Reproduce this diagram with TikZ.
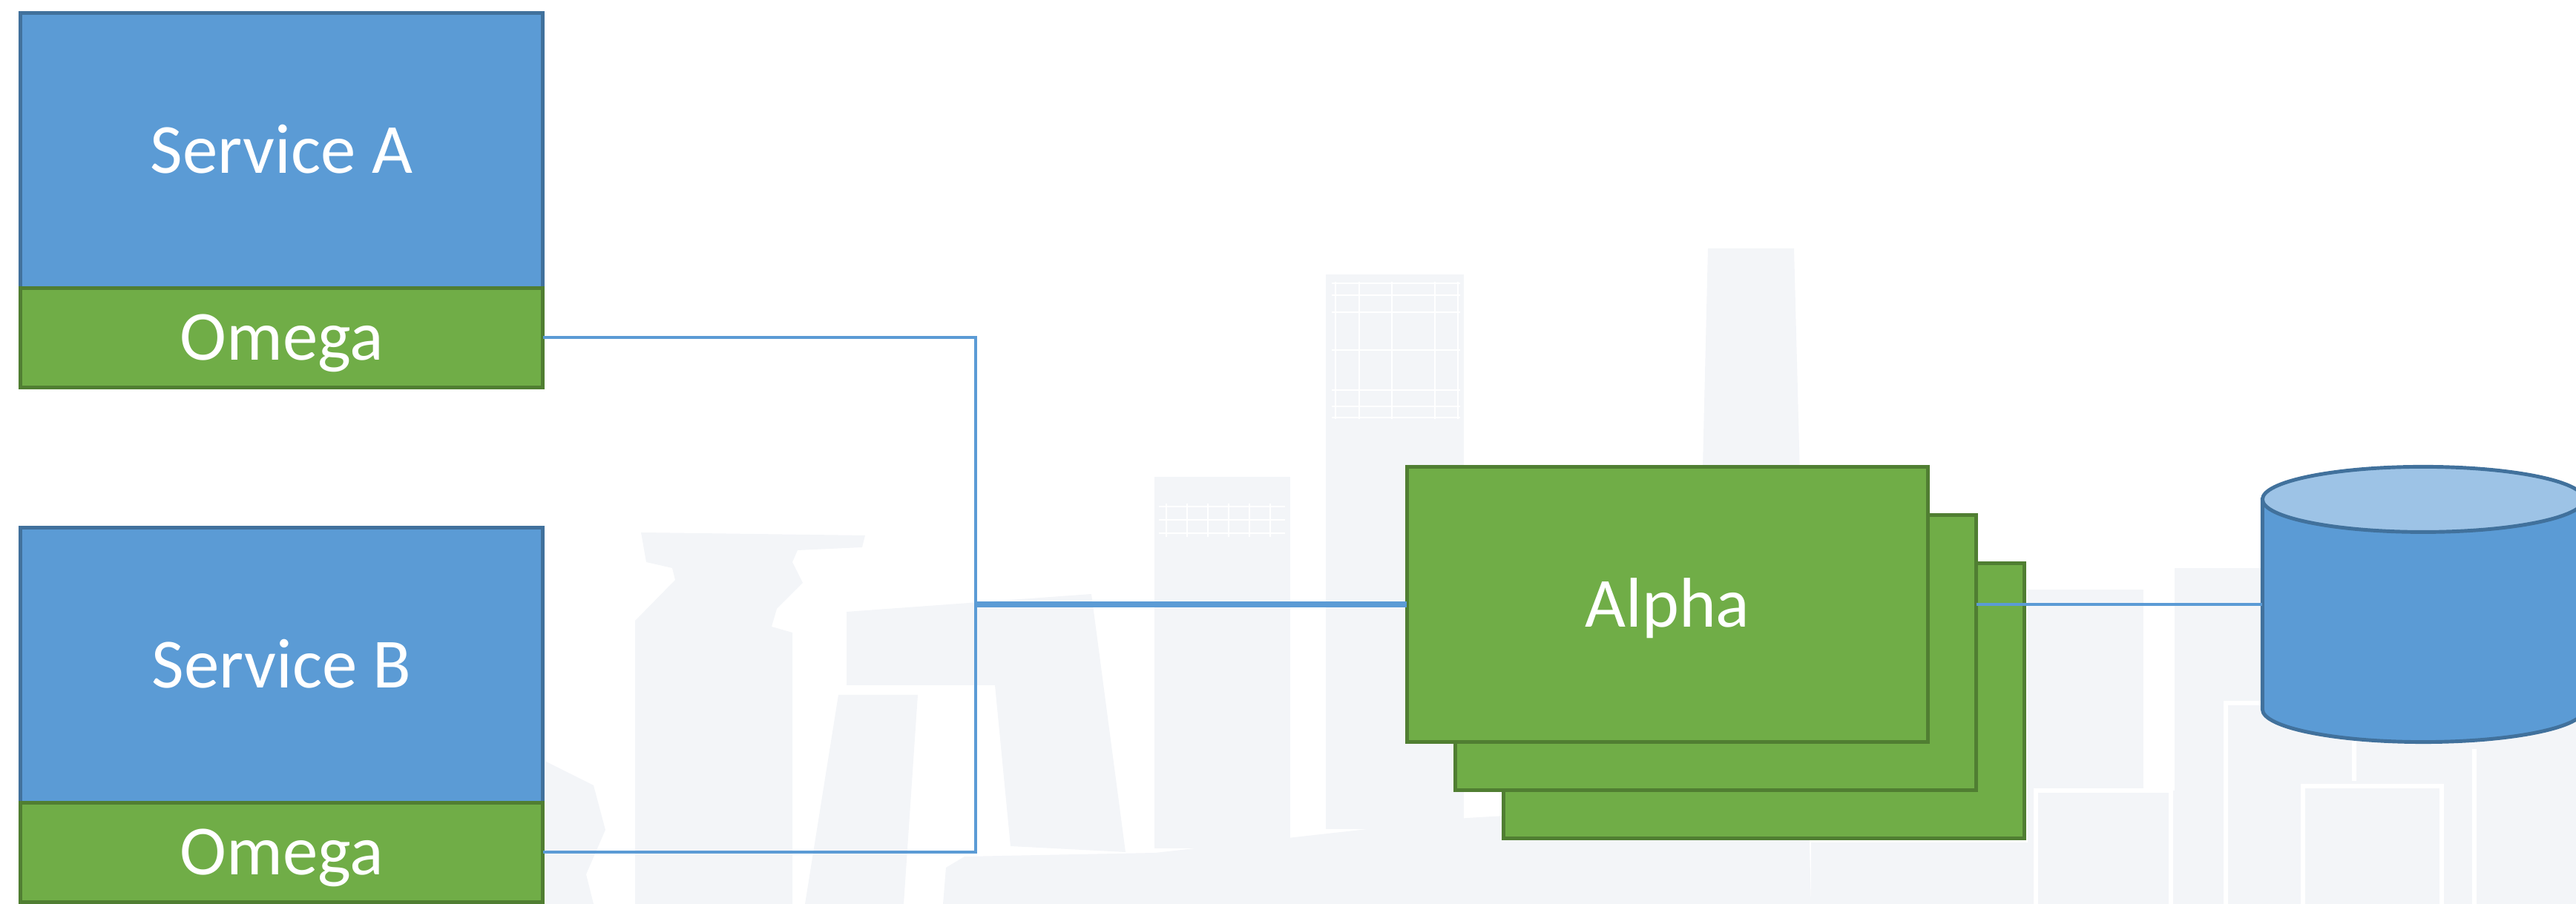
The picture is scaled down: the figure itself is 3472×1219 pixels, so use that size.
\documentclass[tikz,border=0pt]{standalone}
\usepackage{fontspec}
\setmainfont{Carlito}
\usepackage{xcolor}
\usetikzlibrary{positioning}

\definecolor{svcblue}{HTML}{5B9BD5}
\definecolor{svcedge}{HTML}{41719C}
\definecolor{omgreen}{HTML}{70AD47}
\definecolor{omedge}{HTML}{507E32}
\definecolor{dbtop}{HTML}{9DC3E6}
\definecolor{city}{HTML}{F3F5F8}

\begin{document}
\begin{tikzpicture}[x=0.01cm,y=0.01cm,
  svcbox/.style={rectangle,fill=svcblue,draw=svcedge,line width=1.4pt,outer sep=0pt,
    minimum width=7.04cm,minimum height=3.70cm,text=white,text height=17.4pt,text depth=0pt,
    font=\fontsize{27}{32}\selectfont},
  omegabox/.style={svcbox,fill=omgreen,draw=omedge,minimum height=1.34cm},
  alphabox/.style={omegabox,minimum width=7.02cm,minimum height=3.71cm},
  wire/.style={draw=svcblue,line width=1.3pt}]
\useasboundingbox (0,0) rectangle (3472,1219);
% skyline
\fill[city] (856,0) -- (856,382) -- (910,437) -- (906,453) -- (871,461) -- (864,501) -- (1166,497)
  -- (1162,481) -- (1075,477) -- (1068,461) -- (1082,433) -- (1047,398) -- (1040,374) -- (1068,366) -- (1068,0) -- cycle;
\fill[city] (736,192) -- (800,160) -- (816,100) -- (790,40) -- (800,0) -- (736,0) -- cycle;
\fill[city] (1141,394) -- (1471,418) -- (1517,70) -- (1362,78) -- (1341,295) -- (1141,295) -- cycle;
\fill[city] (1130,282) -- (1237,282) -- (1218,0) -- (1085,0) -- cycle;
\fill[city] (1556,75) rectangle (1739,576);
\foreach \wx in {1572,1600,...,1712} \draw[white,line width=0.6pt] (\wx,495) -- (\wx,540);
\foreach \wy in {500,518,536} \draw[white,line width=0.6pt] (1562,\wy) -- (1732,\wy);
\fill[city] (1787,101) rectangle (1973,849);
\foreach \gx in {1800,1832,1876,1934,1965} \draw[white,line width=0.6pt] (\gx,654) -- (\gx,839);
\foreach \gy in {656,671,693,747,798,821,837} \draw[white,line width=0.6pt] (1795,\gy) -- (1968,\gy);
\fill[city] (2302,884) -- (2418,884) -- (2441,0) -- (2281,0) -- cycle;
\fill[city] (1271,0) -- (1275,49) -- (1300,64) -- (1557,69) -- (1977,116) -- (2290,134) -- (2290,0) -- cycle;
\fill[city] (2441,0) rectangle (2733,83);
\fill[city] (2733,0) rectangle (2889,424);
\fill[city] (2733,0) rectangle (2931,153);
\fill[city] (2931,0) rectangle (3472,453);
\draw[white,line width=1.7pt] (2744,0) -- (2744,153) -- (2926,153) -- (2926,0);
\draw[white,line width=1.7pt] (3000,0) -- (3000,271) -- (3173,271) -- (3173,166);
\draw[white,line width=1.7pt] (3104,0) -- (3104,159) -- (3291,159) -- (3291,0);
\draw[white,line width=1.7pt] (3335,0) -- (3335,209);
% services
\foreach \s/\y in {A/1016,B/322}
{ \node[svcbox] (svc\s) at (379.5,\y) {Service \s};
  \node[omegabox,below=0pt of svc\s] (omega\s) {Omega};}
% alpha stack
\foreach \k in {2,1}
{ \node[alphabox] (alpha\k) at ({2247.5+65*\k},{404-65*\k}) {};}
\node[alphabox] (alpha) at (2247.5,404) {Alpha};
% database
\node[minimum width=4.33cm,minimum height=3.71cm,inner sep=0pt,outer sep=0pt] (db) at (3266,404) {};
\filldraw[fill=svcblue,draw=svcedge,line width=1.4pt] ([yshift=-0.44cm]db.north west) -- ([yshift=0.44cm]db.south west)
  arc[start angle=180,end angle=360,x radius=2.165cm,y radius=0.44cm] -- ([yshift=-0.44cm]db.north east) -- cycle;
\filldraw[fill=dbtop,draw=svcedge,line width=1.4pt] ([yshift=-0.44cm]db.north) ellipse[x radius=2.165cm,y radius=0.44cm];
% wires
\coordinate (hub) at (1315,404);
\draw[wire] (omegaA.east) -| (hub) |- (omegaB.east);
\draw[wire,line width=2.3pt] (hub) -- (alpha.west);
\draw[wire] (alpha1.east |- alpha.east) -- (db.west);
\end{tikzpicture}
\end{document}
